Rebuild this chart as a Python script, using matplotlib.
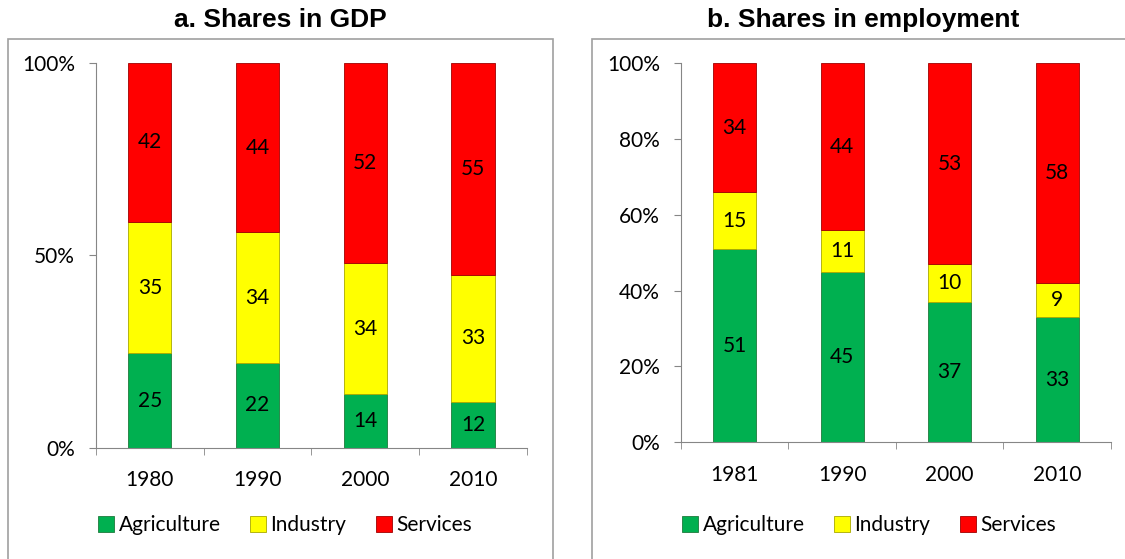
import numpy as np
import matplotlib.pyplot as plt
from matplotlib.patches import Rectangle

# Data
gdp_years = ['1980', '1990', '2000', '2010']
gdp_agriculture = [25, 22, 14, 12]
gdp_industry = [35, 34, 34, 33]
gdp_services = [42, 44, 52, 55]

emp_years = ['1981', '1990', '2000', '2010']
emp_agriculture = [51, 45, 37, 33]
emp_industry = [15, 11, 10, 9]
emp_services = [34, 44, 53, 58]

sectors = ['Agriculture', 'Industry', 'Services']
colors = ['#00B050', '#FFFF00', '#FF0000']
edges = ['#1E7A3C', '#A8A800', '#A00000']

plt.rcParams['font.family'] = ['Lato', 'DejaVu Sans']
axis_grey = '#868686'


def stacked_panel(ax, years, series, yticks):
    totals = np.sum(series, axis=0)
    x = np.arange(1, len(years) + 1)
    bottom = np.zeros(len(years))
    bars = []
    for vals, c, ec, name in zip(series, colors, edges, sectors):
        share = np.array(vals) / totals * 100
        b = ax.bar(x, share, 0.4, bottom=bottom, color=c, edgecolor=ec,
                   linewidth=0.6, label=name)
        ax.bar_label(b, labels=[str(v) for v in vals], label_type='center',
                     fontsize=15, color='black')
        bottom += share
        bars.append(b)

    ax.set_xlim(0.5, len(years) + 0.5)
    ax.set_ylim(0, 100)
    ax.set_yticks(yticks)
    ax.set_yticklabels([f'{t}%' for t in yticks], fontsize=15)
    ax.set_xticks(x)
    ax.set_xticklabels(years, fontsize=15)
    ax.set_xticks(np.arange(0.5, len(years) + 1), minor=True)
    ax.tick_params(axis='x', which='major', length=0, pad=16)
    ax.tick_params(axis='x', which='minor', length=5, color=axis_grey, direction='out')
    ax.tick_params(axis='y', length=5, color=axis_grey, pad=10)
    for s in ['top', 'right']:
        ax.spines[s].set_visible(False)
    for s in ['left', 'bottom']:
        ax.spines[s].set_color(axis_grey)
    return bars


fig = plt.figure(figsize=(11.25, 5.59), dpi=100)

# panel borders
fig.patches.append(Rectangle((8 / 1125, -0.01), 545 / 1125, 1 - 39 / 559 + 0.01,
                             transform=fig.transFigure, fill=False,
                             edgecolor='#A0A0A0', linewidth=1.2))
fig.patches.append(Rectangle((592 / 1125, -0.01), 0.5, 1 - 39 / 559 + 0.01,
                             transform=fig.transFigure, fill=False,
                             edgecolor='#A0A0A0', linewidth=1.2))

ax1 = fig.add_axes([0.0853, 0.1991, 0.383, 0.6877])
bars1 = stacked_panel(ax1, gdp_years, [gdp_agriculture, gdp_industry, gdp_services], [0, 50, 100])

ax2 = fig.add_axes([0.6053, 0.2088, 0.3822, 0.678])
bars2 = stacked_panel(ax2, emp_years, [emp_agriculture, emp_industry, emp_services], [0, 20, 40, 60, 80, 100])

fig.text(280 / 1125, 1 - 20 / 559, 'a. Shares in GDP', ha='center', va='center',
         fontsize=19, fontweight='bold', family=['Liberation Sans', 'DejaVu Sans'])
fig.text(863 / 1125, 1 - 20 / 559, 'b. Shares in employment', ha='center', va='center',
         fontsize=19, fontweight='bold', family=['Liberation Sans', 'DejaVu Sans'])

for bars, cx in [(bars1, 285 / 1125), (bars2, 869 / 1125)]:
    fig.legend(handles=bars, labels=sectors, loc='center', bbox_to_anchor=(cx, 1 - 525 / 559),
               ncol=3, frameon=False, fontsize=15, handlelength=0.8, handleheight=0.8,
               handletextpad=0.2, columnspacing=1.4)

fig.savefig('out.png', dpi=100)
